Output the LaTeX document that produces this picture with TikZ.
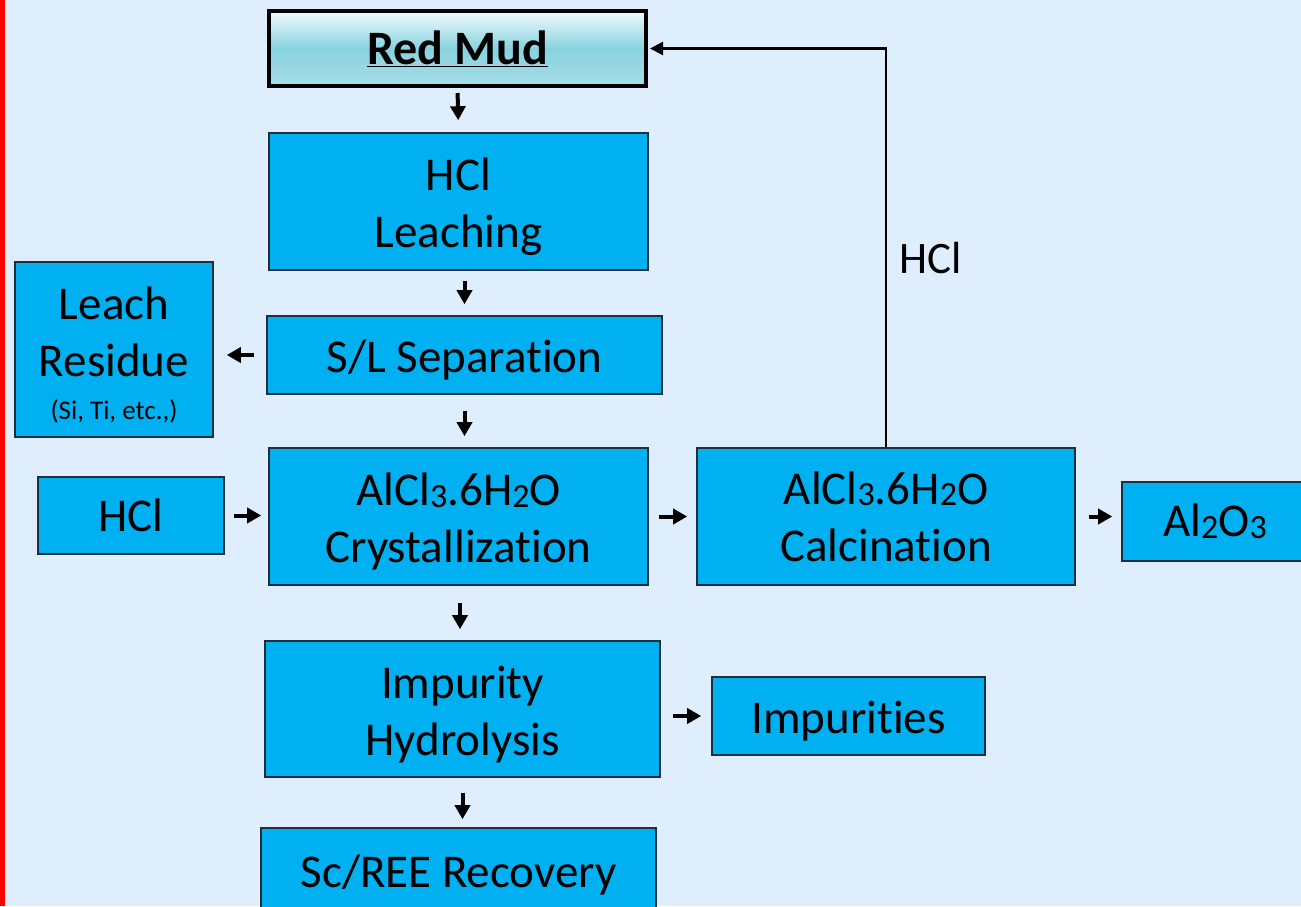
\documentclass[tikz,border=0pt]{standalone}
\usepackage{fontspec}
\setmainfont{Carlito}[Ligatures={NoCommon}]
\usetikzlibrary{arrows.meta,calc}
\definecolor{bgc}{HTML}{DEEEFC}
\definecolor{boxc}{HTML}{00B0F0}
\definecolor{boxd}{HTML}{1F2F3A}
\definecolor{rmtop}{HTML}{F2FCFD}
\definecolor{rmmid}{HTML}{88D2DF}
\definecolor{rmbot}{HTML}{A6DDE7}
\newcommand{\dn}[1]{\raisebox{-0.08ex}{\fontsize{34}{34}\selectfont #1}}
\newcommand{\tallstrut}{\rule{0pt}{43pt}}
\begin{document}
\begin{tikzpicture}[x=1pt,y=-1pt,
  box/.style={draw=boxd, line width=1.6pt, fill=boxc, inner sep=0pt, align=center,
    font=\fontsize{47}{57}\selectfont, text=black},
  arr/.style={line width=4pt, -{Triangle[length=14pt,width=15pt]}},
  fb/.style={line width=2.2pt, -{Triangle[length=13pt,width=13pt]}}]
\useasboundingbox (0,0) rectangle (1301,906);
\fill[bgc] (0,0) rectangle (1301,906);
\fill[red] (0,0) rectangle (5,906);
% nodes
\node[draw=black, line width=4pt, shading=axis, top color=rmtop, bottom color=rmbot, middle color=rmmid,
  minimum width=377pt, minimum height=75pt, inner sep=0pt,
  font=\fontsize{48}{52}\selectfont\bfseries] (redmud) at (457.5,48.5) {\underline{Red Mud}};
\node[box, minimum width=379pt, minimum height=137pt] (leach) at (458.5,201.5) {\tallstrut HCl\\Leaching};
\node[box, minimum width=395pt, minimum height=78pt] (sl) at (464.5,355) {\tallstrut S/L Separation};
\node[box, minimum width=198pt, minimum height=175pt] (resid) at (114,349.5)
  {\tallstrut Leach\\Residue\\[-14pt]{\fontsize{27}{30}\selectfont (Si, Ti, etc.,)}};
\node[box, minimum width=186pt, minimum height=77pt] (hclin) at (131,515.5) {HCl};
\node[box, minimum width=379pt, minimum height=137pt] (cryst) at (458.5,516.5) {\tallstrut AlCl\dn{3}.6H\dn{2}O\\Crystallization};
\node[box, minimum width=378pt, minimum height=137pt] (calc) at (886,516.5) {AlCl\dn{3}.6H\dn{2}O\\Calcination};
\node[box, minimum width=188pt, minimum height=79pt, text width=188pt] (alo) at (1216,521.5) {\hspace*{-2pt}Al\dn{2}O\dn{3}};
\node[box, minimum width=395pt, minimum height=136pt] (hydro) at (462.5,709) {\tallstrut Impurity\\Hydrolysis};
\node[box, minimum width=273pt, minimum height=78pt] (imps) at (848.5,716) {\tallstrut Impurities};
\node[box, minimum width=395pt, minimum height=84pt] (sc) at (458.5,870) {\tallstrut Sc/REE Recovery};
% arrows
\draw[arr, shorten <=5pt, shorten >=12pt] (redmud.south) -- (leach.north);
\draw[arr, shorten <=10pt, shorten >=11pt] (leach.south -| sl.north) -- (sl.north);
\draw[arr, shorten <=16pt, shorten >=11pt] (sl.south) -- (sl.south |- cryst.north);
\draw[arr, shorten <=12pt, shorten >=13pt] (sl.west) -- (sl.west -| resid.east);
\draw[arr, shorten <=9pt, shorten >=7pt] (hclin.east) -- (hclin.east -| cryst.west);
\draw[arr, shorten <=10pt, shorten >=9pt] (cryst.east) -- (calc.west);
\draw[arr, shorten <=13pt, shorten >=9pt] (calc.east) -- (calc.east -| alo.west);
\draw[arr, shorten <=17pt, shorten >=11pt] (cryst.south -| 460,0) -- (hydro.north -| 460,0);
\draw[arr, shorten <=12pt, shorten >=10pt] (hydro.east |- imps.west) -- (imps.west);
\draw[arr, shorten <=15pt, shorten >=8pt] (hydro.south) -- (hydro.south |- sc.north);
% recycle
\draw[fb, shorten >=2pt] (calc.north) |- (redmud.east);
\node[font=\fontsize{45}{50}\selectfont, inner sep=0pt] (hcllab) at (931,258) {HCl};
\end{tikzpicture}
\end{document}
